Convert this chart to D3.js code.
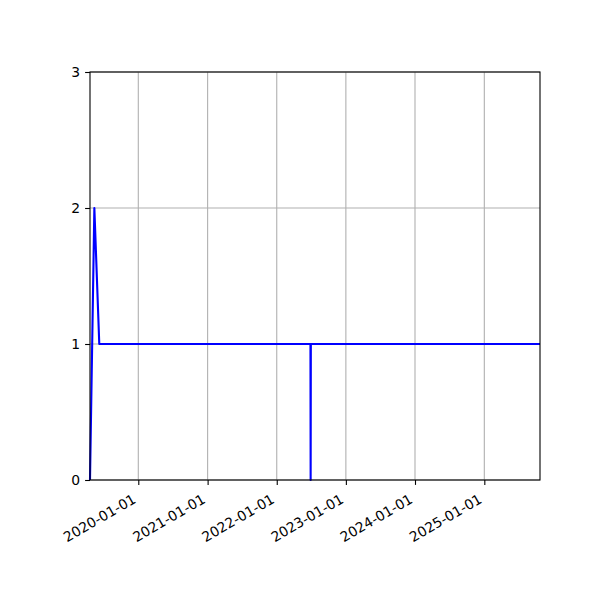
<html lang="en">
<head>
    <meta charset="UTF-8">
    <title>Line chart</title>
    <style>
        body { margin: 0; background: #fff; }
        text { font-family: "DejaVu Sans", sans-serif; fill: #000; }
    </style>
</head>
<body>
<script src="https://d3js.org/d3.v7.min.js"></script>
<script>

    const w = 600;
    const h = 600;
    const margin = { left: 90, right: 60, top: 72, bottom: 120 };

    // data
    const dates = ["2019-04-21", "2019-05-14", "2019-06-09", "2022-06-28", "2022-06-29", "2022-06-30", "2025-10-22"];
    const values = [0, 2, 1, 1, 0, 1, 1];
    const xTickLabels = ["2020-01-01", "2021-01-01", "2022-01-01", "2023-01-01", "2024-01-01", "2025-01-01"];
    const yTicks = [0, 1, 2, 3];
    const xDomain = ["2019-04-21", "2025-10-22"];

    const parse = d3.timeParse("%Y-%m-%d");
    const data = dates.map((d, i) => ({ date: parse(d), value: values[i] }));

    const svg = d3.select("body")
        .append("svg")
        .attr("width", w)
        .attr("height", h);

    const x = d3.scaleTime()
        .domain(xDomain.map(parse))
        .range([margin.left, w - margin.right]);

    const y = d3.scaleLinear()
        .domain([0, 3])
        .range([h - margin.bottom, margin.top]);

    // grid
    svg.append("g")
        .selectAll("line.vgrid")
        .data(xTickLabels)
        .enter()
        .append("line")
        .attr("x1", d => x(parse(d)))
        .attr("x2", d => x(parse(d)))
        .attr("y1", y(0))
        .attr("y2", y(3))
        .attr("stroke", "#b0b0b0")
        .attr("stroke-width", 1.1);

    svg.append("g")
        .selectAll("line.hgrid")
        .data(yTicks)
        .enter()
        .append("line")
        .attr("x1", x.range()[0])
        .attr("x2", x.range()[1])
        .attr("y1", d => y(d))
        .attr("y2", d => y(d))
        .attr("stroke", "#b0b0b0")
        .attr("stroke-width", 1.1);

    // data line
    const line = d3.line()
        .x(d => x(d.date))
        .y(d => y(d.value));

    svg.append("path")
        .datum(data)
        .attr("d", line)
        .attr("fill", "none")
        .attr("stroke", "#0000ff")
        .attr("stroke-width", 2.1)
        .attr("stroke-linejoin", "round");

    // axes
    const xAxis = d3.axisBottom(x)
        .tickValues(xTickLabels.map(parse))
        .tickSize(4.9)
        .tickPadding(4.9)
        .tickFormat(d3.timeFormat("%Y-%m-%d"));

    const gx = svg.append("g")
        .attr("transform", "translate(0," + y(0) + ")")
        .call(xAxis);

    gx.select(".domain").remove();
    gx.selectAll(".tick line").attr("stroke", "#000").attr("stroke-width", 1.1);
    gx.selectAll(".tick text")
        .attr("font-size", 13.9)
        .attr("text-anchor", "end")
        .attr("dy", null)
        .attr("y", null)
        .attr("dominant-baseline", "hanging")
        .attr("transform", "translate(-7,13) rotate(-30)");

    const yAxis = d3.axisLeft(y)
        .tickValues(yTicks)
        .tickSize(4.9)
        .tickPadding(4.9)
        .tickFormat(d3.format("d"));

    const gy = svg.append("g")
        .attr("transform", "translate(" + margin.left + ",0)")
        .call(yAxis);

    gy.select(".domain").remove();
    gy.selectAll(".tick line").attr("stroke", "#000").attr("stroke-width", 1.1);
    gy.selectAll(".tick text").attr("font-size", 13.9);

    // frame
    svg.append("rect")
        .attr("x", margin.left)
        .attr("y", margin.top)
        .attr("width", w - margin.left - margin.right)
        .attr("height", h - margin.top - margin.bottom)
        .attr("fill", "none")
        .attr("stroke", "#000")
        .attr("stroke-width", 1.1);

</script>
</body>
</html>
